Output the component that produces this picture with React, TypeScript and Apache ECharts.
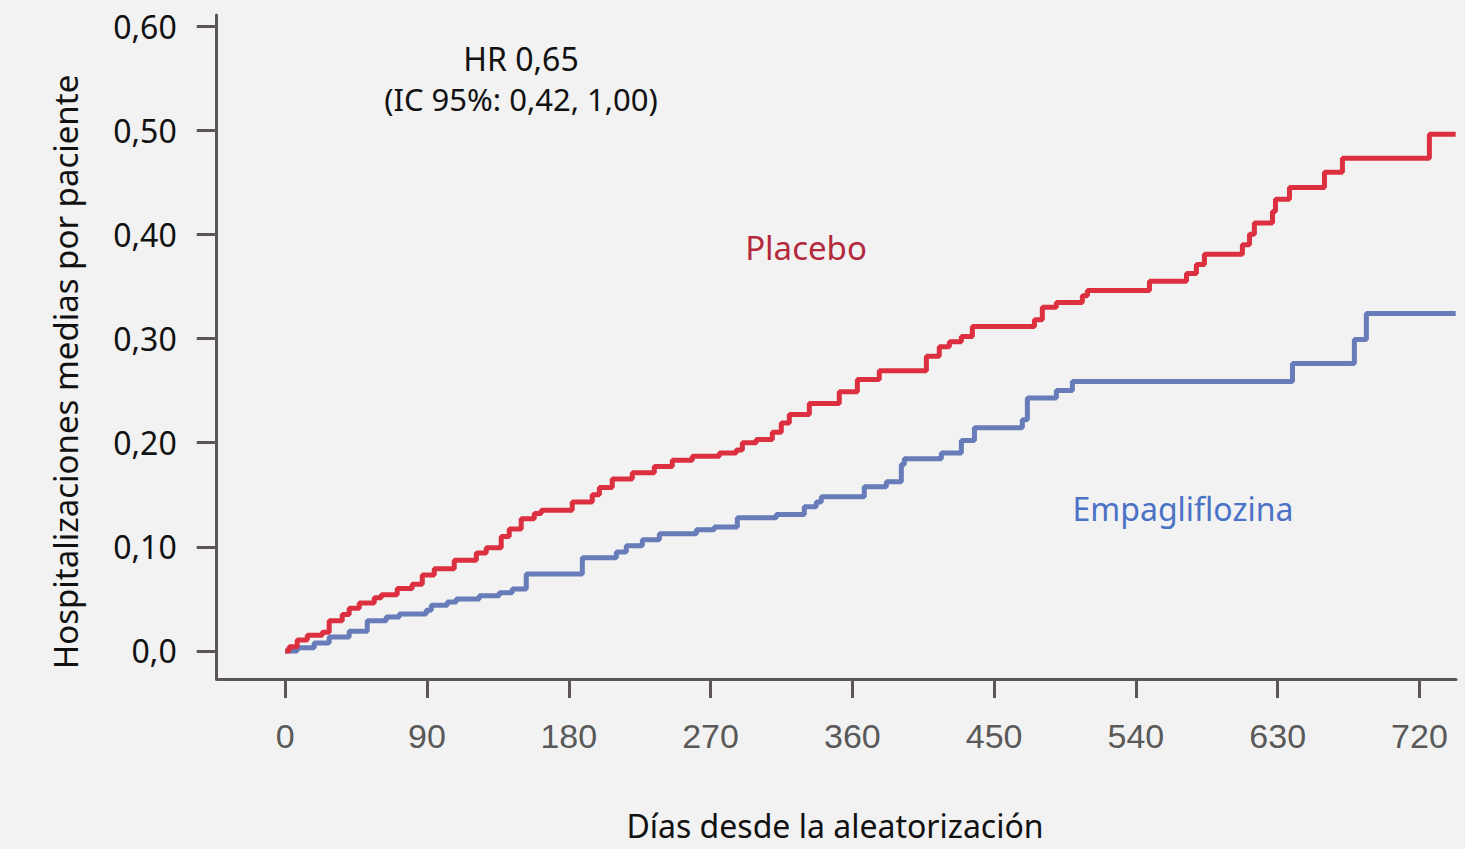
import React, { useEffect, useRef } from "react";
import * as echarts from "echarts";

// Step data: [day, mean hospitalizations per patient] — value holds from this day on
const placeboDays = [0, 2.5, 7.6, 14, 23.5, 27.9, 36.2, 40.6, 47, 56.5, 61, 71.1, 80.6, 87, 94.6, 107.3, 121.3, 127.6, 137.1, 142.2, 149.8, 158.1, 162.5, 182.2, 194.9, 199.4, 207.6, 220.3, 234.3, 245.7, 258.4, 275.6, 286.3, 290.2, 299, 309.2, 314.9, 320, 332.7, 351.7, 363.2, 377.1, 407, 415.2, 421.6, 429.2, 436.2, 475.6, 480.6, 489.5, 506, 509.2, 548.6, 572.1, 578.4, 583.5, 607.6, 612.1, 615.2, 626.7, 628.6, 637.5, 659.7, 671.1, 726.3, 743];
const placeboValues = [0, 0.004, 0.0106, 0.015, 0.018, 0.029, 0.035, 0.041, 0.046, 0.051, 0.054, 0.06, 0.064, 0.073, 0.079, 0.087, 0.094, 0.099, 0.11, 0.117, 0.127, 0.132, 0.135, 0.143, 0.15, 0.157, 0.165, 0.171, 0.177, 0.183, 0.187, 0.19, 0.193, 0.2, 0.203, 0.21, 0.219, 0.227, 0.2375, 0.249, 0.2606, 0.269, 0.283, 0.292, 0.297, 0.302, 0.3115, 0.318, 0.33, 0.3346, 0.341, 0.346, 0.355, 0.3625, 0.371, 0.381, 0.39, 0.4, 0.411, 0.422, 0.4337, 0.445, 0.4596, 0.473, 0.496, 0.496];

const empaDays = [0, 7.6, 18.4, 27.9, 40.6, 52.1, 64.1, 72.4, 89.5, 92.7, 102.9, 108.6, 123.2, 135.9, 144.1, 153, 188.6, 210.2, 216.5, 226.7, 237.5, 261, 272.4, 287, 311.7, 329.5, 337.1, 340.3, 367.6, 381.6, 391.1, 393, 416.5, 429.2, 437.5, 467.9, 471.1, 489.5, 499.7, 639.4, 678.7, 686.3, 743];
const empaValues = [0, 0.003, 0.0077, 0.0135, 0.019, 0.029, 0.0327, 0.0356, 0.039, 0.044, 0.047, 0.05, 0.053, 0.0558, 0.0596, 0.074, 0.0894, 0.095, 0.101, 0.1067, 0.1125, 0.1163, 0.119, 0.128, 0.131, 0.1385, 0.143, 0.148, 0.1577, 0.1625, 0.179, 0.1846, 0.19, 0.202, 0.2144, 0.222, 0.243, 0.25, 0.2587, 0.276, 0.299, 0.324, 0.324];

const xTicks = [0, 90, 180, 270, 360, 450, 540, 630, 720];
const yTicks = [0, 0.1, 0.2, 0.3, 0.4, 0.5, 0.6];
const yTickLabels = ["0,0", "0,10", "0,20", "0,30", "0,40", "0,50", "0,60"];

const FONT = "'Noto Sans', 'Open Sans', sans-serif";
const AXIS_COLOR = "#5b5654";

export default function App() {
  const ref = useRef<HTMLDivElement>(null);
  useEffect(() => {
    document.body.style.margin = "0";
    const chart = echarts.init(ref.current!, null, { renderer: "svg" });
    const pairs = (xs: number[], ys: number[]) => xs.map((x, i) => [x, ys[i]]);
    chart.setOption({
      animation: false,
      backgroundColor: "#f2f2f2",
      grid: { left: 216.7, right: 9, top: 15, bottom: 170 },
      xAxis: {
        type: "value",
        min: -43.5,
        max: 743.2,
        splitLine: { show: false },
        axisLine: { show: true, onZero: false, lineStyle: { color: AXIS_COLOR, width: 3 } },
        axisTick: { show: true, customValues: xTicks, length: 19, lineStyle: { color: AXIS_COLOR, width: 3 } },
        axisLabel: {
          customValues: xTicks,
          margin: 40,
          fontFamily: "'Liberation Sans', Arial, sans-serif",
          fontSize: 34,
          color: "#595959",
        },
      },
      yAxis: {
        type: "value",
        min: -0.0269,
        max: 0.6106,
        splitLine: { show: false },
        axisLine: { show: true, onZero: false, lineStyle: { color: AXIS_COLOR, width: 3 } },
        axisTick: { show: true, customValues: yTicks, length: 20, lineStyle: { color: AXIS_COLOR, width: 3 } },
        axisLabel: {
          customValues: yTicks,
          margin: 40,
          fontFamily: FONT,
          fontSize: 32,
          color: "#111111",
          formatter: (v: number) => {
            const i = yTicks.findIndex((t) => Math.abs(t - v) < 1e-6);
            return i >= 0 ? yTickLabels[i] : "";
          },
        },
      },
      series: [
        {
          name: "Placebo",
          type: "line",
          step: "end",
          showSymbol: false,
          data: pairs(placeboDays, placeboValues),
          lineStyle: { color: "#dc3040", width: 5 },
          z: 3,
        },
        {
          name: "Empagliflozina",
          type: "line",
          step: "end",
          showSymbol: false,
          data: pairs(empaDays, empaValues),
          lineStyle: { color: "#677cb9", width: 5 },
          z: 2,
        },
      ],
      graphic: [
        {
          type: "text",
          x: 521,
          y: 58,
          style: { text: "HR 0,65", font: `32px ${FONT}`, fill: "#111111", align: "center", verticalAlign: "middle" },
        },
        {
          type: "text",
          x: 521,
          y: 99,
          style: { text: "(IC 95%: 0,42, 1,00)", font: `31px ${FONT}`, fill: "#111111", align: "center", verticalAlign: "middle" },
        },
        {
          type: "text",
          x: 806,
          y: 247,
          style: { text: "Placebo", font: `33px ${FONT}`, fill: "#b42a3c", align: "center", verticalAlign: "middle" },
        },
        {
          type: "text",
          x: 1183,
          y: 508,
          style: { text: "Empagliflozina", font: `32px ${FONT}`, fill: "#4b72c6", align: "center", verticalAlign: "middle" },
        },
        {
          type: "text",
          x: 835,
          y: 825,
          style: { text: "Días desde la aleatorización", font: `32px ${FONT}`, fill: "#111111", align: "center", verticalAlign: "middle" },
        },
        {
          type: "text",
          x: 65,
          y: 372,
          rotation: Math.PI / 2,
          style: { text: "Hospitalizaciones medias por paciente", font: `33px ${FONT}`, fill: "#111111", align: "center", verticalAlign: "middle" },
        },
      ],
    });
    return () => chart.dispose();
  }, []);
  return <div ref={ref} style={{ width: 1465, height: 849 }} />;
}
